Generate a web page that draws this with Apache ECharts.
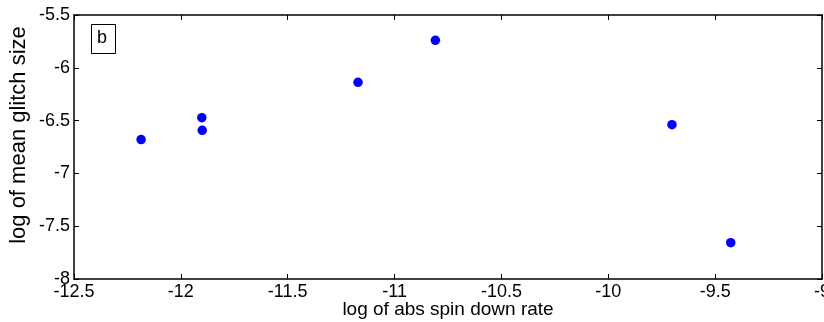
<!DOCTYPE html>
<html>
<head>
<meta charset="utf-8">
<script src="https://cdn.jsdelivr.net/npm/echarts@6/dist/echarts.min.js"></script>
<style>
html, body { margin: 0; padding: 0; background: #fff; }
#main { width: 824px; height: 322px; }
</style>
</head>
<body>
<div id="main"></div>
<script>
var spinDownRate = [-12.186, -11.902, -11.900, -11.171, -10.809, -9.702, -9.427];
var glitchSize = [-6.680, -6.472, -6.592, -6.137, -5.740, -6.539, -7.656];
var xName = 'log of abs spin down rate';
var yName = 'log of mean glitch size';
var panelLabel = 'b';

var points = [];
for (var i = 0; i < spinDownRate.length; i++) {
    points.push([spinDownRate[i], glitchSize[i]]);
}

var font = 'Liberation Sans, Arial, sans-serif';
var myChart = echarts.init(document.getElementById('main'));

var tickStyle = { show: true, inside: true, length: 5, lineStyle: { color: '#000', width: 1 } };
var lineStyle = { show: true, onZero: false, lineStyle: { color: '#000', width: 1.5 } };

option = {
    animation: false,
    grid: { left: 74, right: 2, top: 15, bottom: 43, outerBoundsMode: 'none', containLabel: false },
    xAxis: [{
        type: 'value', min: -12.5, max: -9, interval: 0.5,
        name: xName, nameLocation: 'middle', nameGap: 21, nameMoveOverlap: false,
        nameTextStyle: { color: '#000', fontSize: 19, fontFamily: font },
        axisLine: lineStyle, axisTick: tickStyle,
        axisLabel: { color: '#000', fontSize: 18, fontFamily: font, margin: 4 },
        splitLine: { show: false }
    }, {
        type: 'value', position: 'top', min: -12.5, max: -9, interval: 0.5,
        axisLine: lineStyle, axisTick: tickStyle,
        axisLabel: { show: false }, splitLine: { show: false }
    }],
    yAxis: [{
        type: 'value', min: -8, max: -5.5, interval: 0.5,
        name: yName, nameLocation: 'middle', nameGap: 44, nameMoveOverlap: false,
        nameTextStyle: { color: '#000', fontSize: 22, fontFamily: font, padding: [0, 0, 0, 24] },
        axisLine: lineStyle, axisTick: tickStyle,
        axisLabel: { color: '#000', fontSize: 18, fontFamily: font, margin: 4 },
        splitLine: { show: false }
    }, {
        type: 'value', position: 'right', min: -8, max: -5.5, interval: 0.5,
        axisLine: lineStyle, axisTick: tickStyle,
        axisLabel: { show: false }, splitLine: { show: false }
    }],
    graphic: [{
        type: 'rect', left: 91, top: 24,
        shape: { width: 24, height: 29 },
        style: { fill: '#fff', stroke: '#000', lineWidth: 1 }
    }, {
        type: 'text', left: 97, top: 29,
        style: { text: panelLabel, fill: '#000', fontSize: 18, fontFamily: font }
    }],
    series: [{
        type: 'scatter',
        data: points,
        symbol: 'circle',
        symbolSize: 9.5,
        itemStyle: { color: '#0000ff', opacity: 1 }
    }]
};
myChart.setOption(option);
</script>
</body>
</html>
